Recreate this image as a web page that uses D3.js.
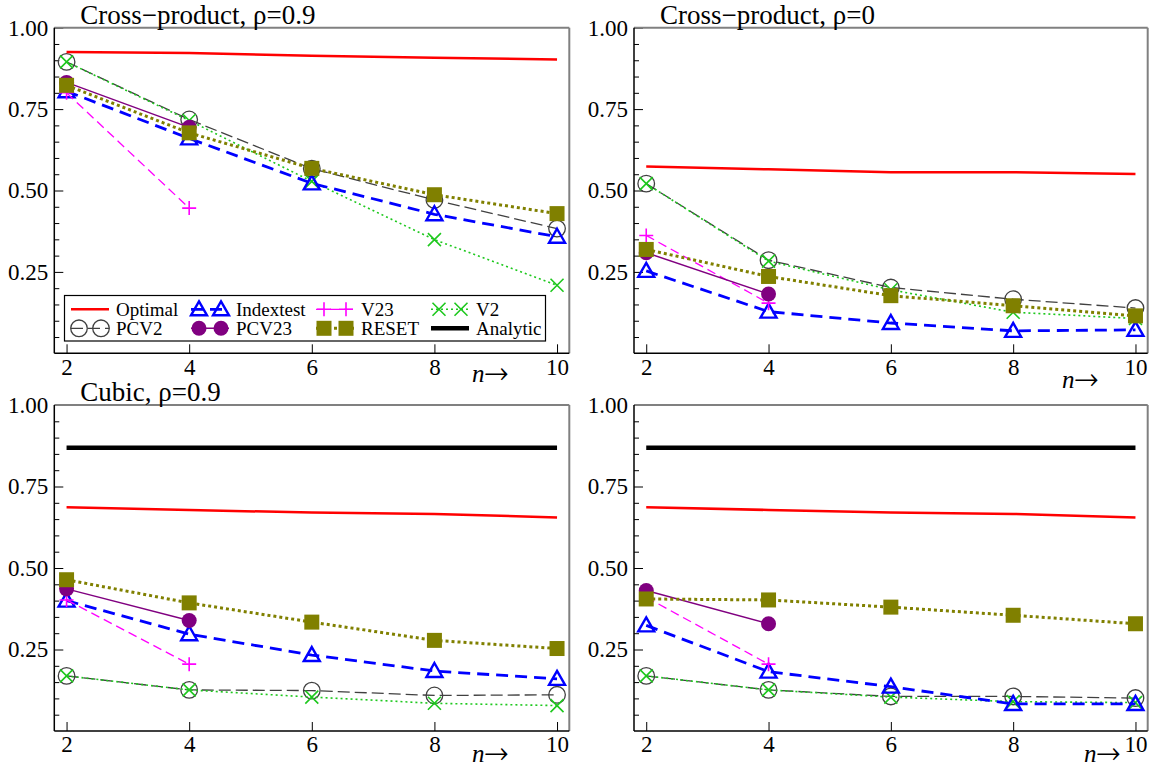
<!DOCTYPE html>
<html lang="en">
<head>
<meta charset="utf-8">
<script src="https://d3js.org/d3.v7.min.js"></script>
<style>
  body { margin: 0; background: #fff; }
</style>
</head>
<body>
<svg id="chart" width="1161" height="767"></svg>

<script>
  // x values (n) and tick labels
  var nValues = [2, 4, 6, 8, 10]
  var yTickValues = [0.25, 0.5, 0.75, 1.0]
  var yMinorTicks = [0.05, 0.1, 0.15, 0.2, 0.3, 0.35, 0.4, 0.45, 0.55, 0.6, 0.65, 0.7, 0.8, 0.85, 0.9, 0.95]
  var panelTitles = ["Cross\u2212product, \u03c1=0.9", "Cross\u2212product, \u03c1=0", "Cubic, \u03c1=0.9", ""]

  // one row per panel: top-left, top-right, bottom-left, bottom-right
  var optimal = [
    [0.925, 0.922, 0.914, 0.908, 0.902],
    [0.574, 0.565, 0.556, 0.556, 0.551],
    [0.686, 0.678, 0.670, 0.666, 0.655],
    [0.686, 0.678, 0.670, 0.666, 0.655]]
  var indextest = [
    [0.805, 0.660, 0.522, 0.427, 0.358],
    [0.253, 0.128, 0.093, 0.069, 0.072],
    [0.400, 0.297, 0.233, 0.184, 0.160],
    [0.324, 0.182, 0.136, 0.083, 0.083]]
  var v23 = [
    [0.800, 0.446, null, null, null],
    [0.362, 0.154, null, null, null],
    [0.402, 0.205, null, null, null],
    [0.410, 0.205, null, null, null]]
  var v2 = [
    [0.895, 0.715, 0.528, 0.349, 0.209],
    [0.521, 0.283, 0.195, 0.126, 0.107],
    [0.169, 0.126, 0.104, 0.085, 0.078],
    [0.169, 0.126, 0.104, 0.090, 0.087]]
  var pcv2 = [
    [0.895, 0.718, 0.567, 0.471, 0.383],
    [0.521, 0.286, 0.202, 0.166, 0.139],
    [0.169, 0.126, 0.124, 0.109, 0.111],
    [0.169, 0.126, 0.106, 0.106, 0.101]]
  var pcv23 = [
    [0.832, 0.694, null, null, null],
    [0.309, 0.182, null, null, null],
    [0.436, 0.339, null, null, null],
    [0.431, 0.329, null, null, null]]
  var reset = [
    [0.823, 0.677, 0.568, 0.487, 0.429],
    [0.319, 0.236, 0.177, 0.146, 0.115],
    [0.464, 0.393, 0.334, 0.278, 0.253],
    [0.405, 0.402, 0.380, 0.355, 0.329]]
  var analytic = [
    [null, null, null, null, null],
    [null, null, null, null, null],
    [0.869, 0.869, 0.869, 0.869, 0.869],
    [0.869, 0.869, 0.869, 0.869, 0.869]]

  var styles = {
    Optimal:   {data: optimal,   color: '#ff0000', width: 2.5, dash: null,   marker: null},
    Indextest: {data: indextest, color: '#0000ff', width: 2.8, dash: '12,7', marker: 'triangle'},
    V23:       {data: v23,       color: '#ff00ff', width: 1.3, dash: '9,5',  marker: 'plus'},
    V2:        {data: v2,        color: '#1ec81e', width: 1.6, dash: '2,3',  marker: 'cross'},
    PCV2:      {data: pcv2,      color: '#404040', width: 1.3, dash: '12,5', marker: 'circle'},
    PCV23:     {data: pcv23,     color: '#800080', width: 1.5, dash: null,   marker: 'dot'},
    RESET:     {data: reset,     color: '#808000', width: 3,   dash: '3,3',  marker: 'square'},
    Analytic:  {data: analytic,  color: '#000000', width: 4.5, dash: null,   marker: null}
  }
  var drawOrder = ['PCV2', 'V2', 'Indextest', 'V23', 'PCV23', 'RESET', 'Optimal', 'Analytic']
  var legendRows = [['Optimal', 'Indextest', 'V23', 'V2'], ['PCV2', 'PCV23', 'RESET', 'Analytic']]

  var panels = [
    {left: 54.3, right: 569.3, top: 27.7, bottom: 353.3, titleY: 24, nx: 472, ny: 382},
    {left: 634, right: 1147.7, top: 27.7, bottom: 353.3, titleY: 24, nx: 1062, ny: 388},
    {left: 54.3, right: 569.3, top: 405, bottom: 731, titleY: 401, nx: 472, ny: 762},
    {left: 634, right: 1147.7, top: 405, bottom: 731, titleY: 401, nx: 1084, ny: 762}]

  var FONT = '"Liberation Serif", "Times New Roman", serif'
  var svg = d3.select('#chart')

  function drawMarker(g, type, cx, cy, color) {
    if (type == 'triangle') {
      g.append('path').attr('d', 'M' + cx + ',' + (cy - 8) + 'L' + (cx + 8) + ',' + (cy + 6) + 'L' + (cx - 8) + ',' + (cy + 6) + 'Z')
        .attr('fill', 'none').attr('stroke', color).attr('stroke-width', 2.4)
    } else if (type == 'plus') {
      g.append('path').attr('d', 'M' + (cx - 7) + ',' + cy + 'H' + (cx + 7) + 'M' + cx + ',' + (cy - 7) + 'V' + (cy + 7))
        .attr('stroke', color).attr('stroke-width', 1.6)
    } else if (type == 'cross') {
      g.append('path').attr('d', 'M' + (cx - 6.5) + ',' + (cy - 6.5) + 'L' + (cx + 6.5) + ',' + (cy + 6.5) + 'M' + (cx + 6.5) + ',' + (cy - 6.5) + 'L' + (cx - 6.5) + ',' + (cy + 6.5))
        .attr('stroke', color).attr('stroke-width', 1.6)
    } else if (type == 'circle') {
      g.append('circle').attr('cx', cx).attr('cy', cy).attr('r', 8.3)
        .attr('fill', 'none').attr('stroke', color).attr('stroke-width', 1.3)
    } else if (type == 'dot') {
      g.append('circle').attr('cx', cx).attr('cy', cy).attr('r', 7.5).attr('fill', color)
    } else if (type == 'square') {
      g.append('rect').attr('x', cx - 7.5).attr('y', cy - 7.5).attr('width', 15).attr('height', 15).attr('fill', color)
    }
  }

  panels.forEach(function(p, i) {
    var x = d3.scaleLinear().domain([1.8, 10.2]).range([p.left, p.right])
    var y = d3.scaleLinear().domain([0, 1]).range([p.bottom, p.top])
    var g = svg.append('g')

    // axes
    g.append('g').attr('transform', 'translate(' + p.left + ',0)')
      .call(d3.axisLeft(y).tickValues(yMinorTicks).tickSize(-5).tickFormat(''))
    var ya = g.append('g').attr('transform', 'translate(' + p.left + ',0)')
      .call(d3.axisLeft(y).tickValues(yTickValues).tickSize(-9).tickPadding(6).tickFormat(d3.format('.2f')))
    var xa = g.append('g').attr('transform', 'translate(0,' + p.bottom + ')')
      .call(d3.axisBottom(x).tickValues(nValues).tickSize(-9).tickPadding(5))
    g.selectAll('.domain').remove()
    g.selectAll('.tick line').attr('stroke-width', 1)
    ya.attr('font-size', 23)
    xa.attr('font-size', 23)
    ya.selectAll('text').attr('fill', '#000')
    xa.selectAll('text').attr('fill', '#000')

    // frame
    g.append('line').attr('x1', p.left).attr('x2', p.right).attr('y1', p.top).attr('y2', p.top).attr('stroke', '#808080').attr('stroke-width', 2)
    g.append('line').attr('x1', p.right).attr('x2', p.right).attr('y1', p.top).attr('y2', p.bottom).attr('stroke', '#808080').attr('stroke-width', 2)
    g.append('line').attr('x1', p.left).attr('x2', p.left).attr('y1', p.top).attr('y2', p.bottom).attr('stroke', '#000').attr('stroke-width', 1.5)
    g.append('line').attr('x1', p.left).attr('x2', p.right).attr('y1', p.bottom).attr('y2', p.bottom).attr('stroke', '#000').attr('stroke-width', 1.5)

    // series
    drawOrder.forEach(function(name) {
      var s = styles[name]
      var pts = nValues.map(function(n, k) { return {n: n, v: s.data[i][k]} })
        .filter(function(d) { return d.v != null })
      if (!pts.length) return
      var line = d3.line().x(function(d) { return x(d.n) }).y(function(d) { return y(d.v) })
      g.append('path').datum(pts).attr('d', line)
        .attr('fill', 'none').attr('stroke', s.color).attr('stroke-width', s.width)
        .attr('stroke-dasharray', s.dash)
      if (s.marker) {
        pts.forEach(function(d) { drawMarker(g, s.marker, x(d.n), y(d.v), s.color) })
      }
    })

    // title and axis label
    if (panelTitles[i]) {
      g.append('text').attr('x', p.left + 26).attr('y', p.titleY).attr('font-size', 27).text(panelTitles[i])
    }
    var nl = g.append('text').attr('x', p.nx).attr('y', p.ny).attr('font-size', 25)
    nl.append('tspan').attr('font-style', 'italic').text('n')
    nl.append('tspan').attr('class', 'arrow').attr('font-size', 30).text('\u2192')
  })

  // legend (top-left panel only)
  var lg = svg.append('g')
  lg.append('rect').attr('x', 64.5).attr('y', 295.5).attr('width', 481).attr('height', 45.5)
    .attr('fill', '#fff').attr('stroke', '#000').attr('stroke-width', 1.2)
  var colX = [71, 191, 316, 431]
  var rowY = [309.3, 328.3]
  legendRows.forEach(function(row, r) {
    row.forEach(function(name, c) {
      var s = styles[name]
      var sx = colX[c], sy = rowY[r]
      lg.append('line').attr('x1', sx).attr('x2', sx + 38).attr('y1', sy).attr('y2', sy)
        .attr('stroke', s.color).attr('stroke-width', s.width).attr('stroke-dasharray', s.dash)
      if (s.marker) {
        drawMarker(lg, s.marker, sx + 8, sy, s.color)
        drawMarker(lg, s.marker, sx + 30, sy, s.color)
      }
      lg.append('text').attr('x', sx + 45).attr('y', sy + 6.5).attr('font-size', 19).text(name)
    })
  })

  svg.selectAll('text').style('font-family', FONT)
  svg.selectAll('tspan.arrow').style('font-family', '"FreeSerif", ' + FONT)
</script>
</body>
</html>
